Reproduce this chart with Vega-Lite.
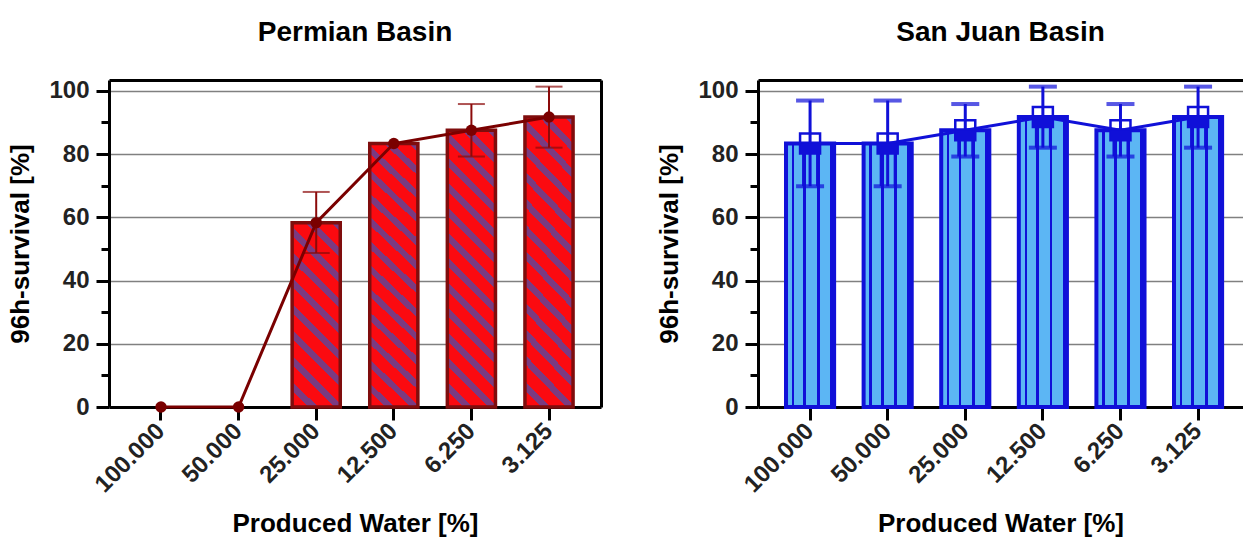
{
  "$schema": "https://vega.github.io/schema/vega-lite/v6.json",
  "padding": {"left": 7, "top": 18, "right": 0, "bottom": 0},
  "background": "white",
  "datasets": {
    "permian": [
      {"conc": "100.000", "mean": 0, "lo": null, "hi": null},
      {"conc": "50.000", "mean": 0, "lo": null, "hi": null},
      {"conc": "25.000", "mean": 58.3, "lo": 48.7, "hi": 68.0},
      {"conc": "12.500", "mean": 83.3, "lo": null, "hi": null},
      {"conc": "6.250", "mean": 87.5, "lo": 79.2, "hi": 95.8},
      {"conc": "3.125", "mean": 91.7, "lo": 82.0, "hi": 101.3}
    ],
    "sanjuan": [
      {"conc": "100.000", "mean": 83.3, "lo": 69.8, "hi": 96.9},
      {"conc": "50.000", "mean": 83.3, "lo": 69.8, "hi": 96.9},
      {"conc": "25.000", "mean": 87.5, "lo": 79.2, "hi": 95.8},
      {"conc": "12.500", "mean": 91.7, "lo": 82.0, "hi": 101.3},
      {"conc": "6.250", "mean": 87.5, "lo": 79.2, "hi": 95.8},
      {"conc": "3.125", "mean": 91.7, "lo": 82.0, "hi": 101.3}
    ]
  },
  "config": {
    "view": {"stroke": null},
    "font": "Liberation Sans",
    "axis": {
      "domainColor": "black", "domainWidth": 3,
      "tickColor": "black", "tickWidth": 3,
      "labelFont": "Liberation Sans", "labelFontWeight": "bold", "labelFontSize": 24, "labelColor": "#222",
      "titleFont": "Liberation Sans", "titleFontWeight": "bold", "titleFontSize": 26, "titleColor": "#000"
    },
    "title": {"font": "Liberation Sans", "fontSize": 28, "fontWeight": "bold", "color": "#000", "anchor": "middle", "offset": 32}
  },
  "spacing": 55,
  "hconcat": [
    {
      "title": "Permian Basin",
      "width": 492,
      "height": 327,
      "data": {"name": "permian"},
      "resolve": {"axis": {"x": "independent", "y": "independent"}},
      "layer": [
        {
          "transform": [{"filter": "datum.conc == '25.000'"}],
          "mark": {"type": "bar", "stroke": "#7f0d0d", "strokeWidth": 3.5,
            "fill": {"gradient": "linear", "x1": 0, "y1": 1, "x2": 0.307, "y2": -0.180, "stops": [
              {"offset": 0, "color": "#fb0a10"}, {"offset": 0.0722, "color": "#fb0a10"}, {"offset": 0.0722, "color": "#7b3a80"}, {"offset": 0.1111, "color": "#7b3a80"},
              {"offset": 0.1111, "color": "#fb0a10"}, {"offset": 0.1833, "color": "#fb0a10"}, {"offset": 0.1833, "color": "#7b3a80"}, {"offset": 0.2222, "color": "#7b3a80"},
              {"offset": 0.2222, "color": "#fb0a10"}, {"offset": 0.2944, "color": "#fb0a10"}, {"offset": 0.2944, "color": "#7b3a80"}, {"offset": 0.3333, "color": "#7b3a80"},
              {"offset": 0.3333, "color": "#fb0a10"}, {"offset": 0.4056, "color": "#fb0a10"}, {"offset": 0.4056, "color": "#7b3a80"}, {"offset": 0.4444, "color": "#7b3a80"},
              {"offset": 0.4444, "color": "#fb0a10"}, {"offset": 0.5167, "color": "#fb0a10"}, {"offset": 0.5167, "color": "#7b3a80"}, {"offset": 0.5556, "color": "#7b3a80"},
              {"offset": 0.5556, "color": "#fb0a10"}, {"offset": 0.6278, "color": "#fb0a10"}, {"offset": 0.6278, "color": "#7b3a80"}, {"offset": 0.6667, "color": "#7b3a80"},
              {"offset": 0.6667, "color": "#fb0a10"}, {"offset": 0.7389, "color": "#fb0a10"}, {"offset": 0.7389, "color": "#7b3a80"}, {"offset": 0.7778, "color": "#7b3a80"},
              {"offset": 0.7778, "color": "#fb0a10"}, {"offset": 0.85, "color": "#fb0a10"}, {"offset": 0.85, "color": "#7b3a80"}, {"offset": 0.8889, "color": "#7b3a80"},
              {"offset": 0.8889, "color": "#fb0a10"}, {"offset": 0.9611, "color": "#fb0a10"}, {"offset": 0.9611, "color": "#7b3a80"}, {"offset": 1, "color": "#7b3a80"}
            ]}},
          "encoding": {
            "x": {"field": "conc", "type": "nominal", "sort": null,
              "scale": {"domain": ["100.000", "50.000", "25.000", "12.500", "6.250", "3.125"], "paddingInner": 0.38, "paddingOuter": 0.36},
              "axis": {"orient": "bottom", "title": "Produced Water [%]", "labelAngle": -45, "labelAlign": "right", "labelBaseline": "middle", "labelPadding": 7, "tickSize": 13, "titlePadding": 14, "grid": false}},
            "y": {"field": "mean", "type": "quantitative",
              "scale": {"domain": [0, 103.4], "nice": false, "zero": true},
              "axis": {"orient": "left", "title": "96h-survival [%]", "values": [0, 10, 20, 30, 40, 50, 60, 70, 80, 90, 100],
                "labelExpr": "datum.value % 20 == 0 ? datum.label : ''",
                "tickSize": {"condition": {"test": "datum.value % 20 == 0", "value": 13}, "value": 8},
                "grid": true, "gridColor": "#808080", "gridWidth": 1.5,
                "gridOpacity": {"condition": {"test": "datum.value % 20 == 0 && datum.value > 0", "value": 1}, "value": 0},
                "labelPadding": 7, "titlePadding": 15}}
          }
        },
        {
          "transform": [{"filter": "datum.mean > 60"}],
          "mark": {"type": "bar", "stroke": "#7f0d0d", "strokeWidth": 3.5,
            "fill": {"gradient": "linear", "x1": 0, "y1": 1, "x2": 0.1974, "y2": -0.139, "stops": [
              {"offset": 0, "color": "#fb0a10"}, {"offset": 0.05, "color": "#fb0a10"}, {"offset": 0.05, "color": "#7b3a80"}, {"offset": 0.0769, "color": "#7b3a80"},
              {"offset": 0.0769, "color": "#fb0a10"}, {"offset": 0.1269, "color": "#fb0a10"}, {"offset": 0.1269, "color": "#7b3a80"}, {"offset": 0.1538, "color": "#7b3a80"},
              {"offset": 0.1538, "color": "#fb0a10"}, {"offset": 0.2038, "color": "#fb0a10"}, {"offset": 0.2038, "color": "#7b3a80"}, {"offset": 0.2308, "color": "#7b3a80"},
              {"offset": 0.2308, "color": "#fb0a10"}, {"offset": 0.2808, "color": "#fb0a10"}, {"offset": 0.2808, "color": "#7b3a80"}, {"offset": 0.3077, "color": "#7b3a80"},
              {"offset": 0.3077, "color": "#fb0a10"}, {"offset": 0.3577, "color": "#fb0a10"}, {"offset": 0.3577, "color": "#7b3a80"}, {"offset": 0.3846, "color": "#7b3a80"},
              {"offset": 0.3846, "color": "#fb0a10"}, {"offset": 0.4346, "color": "#fb0a10"}, {"offset": 0.4346, "color": "#7b3a80"}, {"offset": 0.4615, "color": "#7b3a80"},
              {"offset": 0.4615, "color": "#fb0a10"}, {"offset": 0.5115, "color": "#fb0a10"}, {"offset": 0.5115, "color": "#7b3a80"}, {"offset": 0.5385, "color": "#7b3a80"},
              {"offset": 0.5385, "color": "#fb0a10"}, {"offset": 0.5885, "color": "#fb0a10"}, {"offset": 0.5885, "color": "#7b3a80"}, {"offset": 0.6154, "color": "#7b3a80"},
              {"offset": 0.6154, "color": "#fb0a10"}, {"offset": 0.6654, "color": "#fb0a10"}, {"offset": 0.6654, "color": "#7b3a80"}, {"offset": 0.6923, "color": "#7b3a80"},
              {"offset": 0.6923, "color": "#fb0a10"}, {"offset": 0.7423, "color": "#fb0a10"}, {"offset": 0.7423, "color": "#7b3a80"}, {"offset": 0.7692, "color": "#7b3a80"},
              {"offset": 0.7692, "color": "#fb0a10"}, {"offset": 0.8192, "color": "#fb0a10"}, {"offset": 0.8192, "color": "#7b3a80"}, {"offset": 0.8462, "color": "#7b3a80"},
              {"offset": 0.8462, "color": "#fb0a10"}, {"offset": 0.8962, "color": "#fb0a10"}, {"offset": 0.8962, "color": "#7b3a80"}, {"offset": 0.9231, "color": "#7b3a80"},
              {"offset": 0.9231, "color": "#fb0a10"}, {"offset": 0.9731, "color": "#fb0a10"}, {"offset": 0.9731, "color": "#7b3a80"}, {"offset": 1, "color": "#7b3a80"}
            ]}},
          "encoding": {
            "x": {"field": "conc", "type": "nominal", "sort": null, "axis": null},
            "y": {"field": "mean", "type": "quantitative", "axis": null}
          }
        },
        {
          "transform": [{"filter": "datum.hi != null"}],
          "mark": {"type": "rule", "color": "#8b0a0a", "strokeWidth": 2},
          "encoding": {
            "x": {"field": "conc", "type": "nominal", "sort": null, "axis": null},
            "y": {"field": "lo", "type": "quantitative", "axis": null},
            "y2": {"field": "hi"}
          }
        },
        {
          "transform": [{"filter": "datum.hi != null"}],
          "mark": {"type": "tick", "color": "#8b0a0a", "thickness": 2, "size": 27},
          "encoding": {
            "x": {"field": "conc", "type": "nominal", "sort": null, "axis": null},
            "y": {"field": "hi", "type": "quantitative", "axis": null}
          }
        },
        {
          "transform": [{"filter": "datum.hi != null"}],
          "mark": {"type": "tick", "color": "#8b0a0a", "thickness": 2, "size": 27},
          "encoding": {
            "x": {"field": "conc", "type": "nominal", "sort": null, "axis": null},
            "y": {"field": "lo", "type": "quantitative", "axis": null}
          }
        },
        {
          "mark": {"type": "line", "color": "#7a0000", "strokeWidth": 3},
          "encoding": {
            "x": {"field": "conc", "type": "nominal", "sort": null,
              "axis": {"orient": "top", "labels": false, "ticks": false, "title": null, "grid": false}},
            "y": {"field": "mean", "type": "quantitative",
              "axis": {"orient": "right", "labels": false, "ticks": false, "title": null, "grid": false}}
          }
        },
        {
          "mark": {"type": "point", "shape": "circle", "filled": true, "opacity": 1, "color": "#7a0000", "size": 130},
          "encoding": {
            "x": {"field": "conc", "type": "nominal", "sort": null, "axis": null},
            "y": {"field": "mean", "type": "quantitative", "axis": null}
          }
        }
      ]
    },
    {
      "title": "San Juan Basin",
      "width": 485,
      "height": 327,
      "data": {"name": "sanjuan"},
      "resolve": {"axis": {"x": "independent", "y": "independent"}},
      "layer": [
        {
          "mark": {"type": "bar", "stroke": "#1010d8", "strokeWidth": 4,
            "fill": {"gradient": "linear", "x1": 0, "y1": 0, "x2": 1, "y2": 0, "stops": [
              {"offset": 0, "color": "#5cb6f4"}, {"offset": 0.12, "color": "#5cb6f4"}, {"offset": 0.12, "color": "#1010d8"}, {"offset": 0.17, "color": "#1010d8"},
              {"offset": 0.17, "color": "#5cb6f4"}, {"offset": 0.36, "color": "#5cb6f4"}, {"offset": 0.36, "color": "#1010d8"}, {"offset": 0.42, "color": "#1010d8"},
              {"offset": 0.42, "color": "#5cb6f4"}, {"offset": 0.64, "color": "#5cb6f4"}, {"offset": 0.64, "color": "#1010d8"}, {"offset": 0.70, "color": "#1010d8"},
              {"offset": 0.70, "color": "#5cb6f4"}, {"offset": 0.91, "color": "#5cb6f4"}, {"offset": 0.91, "color": "#1010d8"}, {"offset": 1, "color": "#1010d8"}
            ]}},
          "encoding": {
            "x": {"field": "conc", "type": "nominal", "sort": null,
              "scale": {"domain": ["100.000", "50.000", "25.000", "12.500", "6.250", "3.125"], "paddingInner": 0.38, "paddingOuter": 0.315, "align": 0.573},
              "axis": {"orient": "bottom", "title": "Produced Water [%]", "labelAngle": -45, "labelAlign": "right", "labelBaseline": "middle", "labelPadding": 7, "tickSize": 13, "titlePadding": 14, "grid": false}},
            "y": {"field": "mean", "type": "quantitative",
              "scale": {"domain": [0, 103.4], "nice": false, "zero": true},
              "axis": {"orient": "left", "title": "96h-survival [%]", "values": [0, 10, 20, 30, 40, 50, 60, 70, 80, 90, 100],
                "labelExpr": "datum.value % 20 == 0 ? datum.label : ''",
                "tickSize": {"condition": {"test": "datum.value % 20 == 0", "value": 13}, "value": 8},
                "grid": true, "gridColor": "#808080", "gridWidth": 1.5,
                "gridOpacity": {"condition": {"test": "datum.value % 20 == 0 && datum.value > 0", "value": 1}, "value": 0},
                "labelPadding": 7, "titlePadding": 15}}
          }
        },
        {
          "mark": {"type": "rule", "color": "#1010d8", "strokeWidth": 3},
          "encoding": {
            "x": {"field": "conc", "type": "nominal", "sort": null, "axis": null},
            "y": {"field": "lo", "type": "quantitative", "axis": null},
            "y2": {"field": "hi"}
          }
        },
        {
          "mark": {"type": "rule", "color": "#1010d8", "strokeWidth": 2, "xOffset": -7},
          "encoding": {
            "x": {"field": "conc", "type": "nominal", "sort": null, "axis": null},
            "y": {"field": "lo", "type": "quantitative", "axis": null},
            "y2": {"field": "mean"}
          }
        },
        {
          "mark": {"type": "rule", "color": "#1010d8", "strokeWidth": 2, "xOffset": 7},
          "encoding": {
            "x": {"field": "conc", "type": "nominal", "sort": null, "axis": null},
            "y": {"field": "lo", "type": "quantitative", "axis": null},
            "y2": {"field": "mean"}
          }
        },
        {
          "mark": {"type": "tick", "color": "#1010d8", "thickness": 4, "size": 28},
          "encoding": {
            "x": {"field": "conc", "type": "nominal", "sort": null, "axis": null},
            "y": {"field": "hi", "type": "quantitative", "axis": null}
          }
        },
        {
          "mark": {"type": "tick", "color": "#1010d8", "thickness": 4, "size": 28},
          "encoding": {
            "x": {"field": "conc", "type": "nominal", "sort": null, "axis": null},
            "y": {"field": "lo", "type": "quantitative", "axis": null}
          }
        },
        {
          "mark": {"type": "line", "color": "#1010d8", "strokeWidth": 3},
          "encoding": {
            "x": {"field": "conc", "type": "nominal", "sort": null,
              "axis": {"orient": "top", "labels": false, "ticks": false, "title": null, "grid": false}},
            "y": {"field": "mean", "type": "quantitative", "axis": null}
          }
        },
        {
          "mark": {"type": "point", "shape": "square", "filled": false, "opacity": 1, "color": "#1010d8", "strokeWidth": 2.5, "size": 400},
          "encoding": {
            "x": {"field": "conc", "type": "nominal", "sort": null, "axis": null},
            "y": {"field": "mean", "type": "quantitative", "axis": null}
          }
        },
        {
          "mark": {"type": "point", "shape": "M-1,0H1V1H-1Z", "filled": true, "opacity": 1, "color": "#1010d8", "size": 400},
          "encoding": {
            "x": {"field": "conc", "type": "nominal", "sort": null, "axis": null},
            "y": {"field": "mean", "type": "quantitative", "axis": null}
          }
        }
      ]
    }
  ]
}
